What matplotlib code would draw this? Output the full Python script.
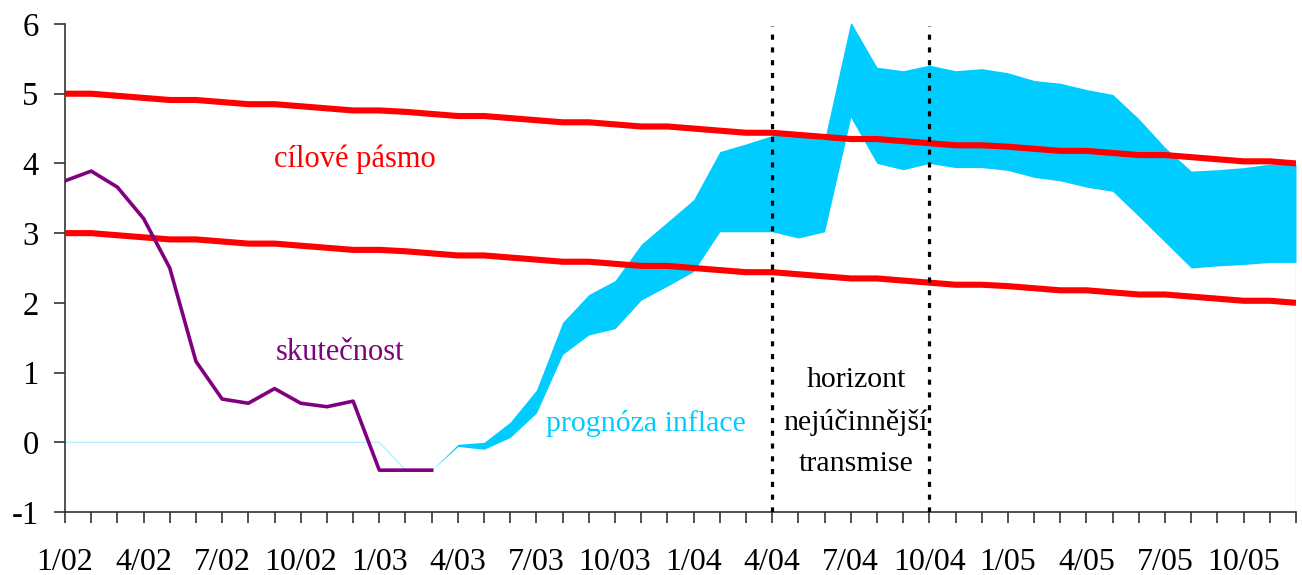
import matplotlib
matplotlib.use("Agg")
import matplotlib.pyplot as plt

months = ["1/02", "2/02", "3/02", "4/02", "5/02", "6/02", "7/02", "8/02", "9/02", "10/02", "11/02", "12/02",
          "1/03", "2/03", "3/03", "4/03", "5/03", "6/03", "7/03", "8/03", "9/03", "10/03", "11/03", "12/03",
          "1/04", "2/04", "3/04", "4/04", "5/04", "6/04", "7/04", "8/04", "9/04", "10/04", "11/04", "12/04",
          "1/05", "2/05", "3/05", "4/05", "5/05", "6/05", "7/05", "8/05", "9/05", "10/05", "11/05", "12/05"]

target_upper = [5.00, 5.00, 4.97, 4.94, 4.91, 4.91, 4.88, 4.85, 4.85, 4.82, 4.79, 4.76,
                4.76, 4.74, 4.71, 4.68, 4.68, 4.65, 4.62, 4.59, 4.59, 4.56, 4.53, 4.53,
                4.50, 4.47, 4.44, 4.44, 4.41, 4.38, 4.35, 4.35, 4.32, 4.29, 4.26, 4.26,
                4.24, 4.21, 4.18, 4.18, 4.15, 4.12, 4.12, 4.09, 4.06, 4.03, 4.03, 4.00]
target_lower = [3.00, 3.00, 2.97, 2.94, 2.91, 2.91, 2.88, 2.85, 2.85, 2.82, 2.79, 2.76,
                2.76, 2.74, 2.71, 2.68, 2.68, 2.65, 2.62, 2.59, 2.59, 2.56, 2.53, 2.53,
                2.50, 2.47, 2.44, 2.44, 2.41, 2.38, 2.35, 2.35, 2.32, 2.29, 2.26, 2.26,
                2.24, 2.21, 2.18, 2.18, 2.15, 2.12, 2.12, 2.09, 2.06, 2.03, 2.03, 2.00]

actual = [3.75, 3.89, 3.66, 3.21, 2.50, 1.16, 0.62, 0.56, 0.77, 0.56, 0.51, 0.59,
          -0.40, -0.40, -0.40]

# forecast band, from 3/03 (index 14) to 12/05
fc_start = 14
fc_upper = [-0.40, -0.03, 0.00, 0.29, 0.75, 1.72, 2.12, 2.32, 2.84, 3.16, 3.48, 4.17,
            4.28, 4.40, 4.40, 4.34, 6.03, 5.38, 5.33, 5.41, 5.33, 5.36, 5.30, 5.19,
            5.15, 5.06, 4.99, 4.64, 4.23, 3.89, 3.91, 3.94, 3.99, 3.99]
fc_lower = [-0.40, -0.06, -0.10, 0.07, 0.42, 1.26, 1.54, 1.63, 2.04, 2.24, 2.45, 3.02,
            3.02, 3.02, 2.93, 3.02, 4.66, 4.00, 3.91, 4.00, 3.94, 3.94, 3.90, 3.80,
            3.75, 3.66, 3.60, 3.24, 2.87, 2.50, 2.53, 2.55, 2.58, 2.58]

# thin base series of the area chart (before forecast)
base_line = [0.0] * 13 + [-0.40, -0.40]

horizon_months = ["4/04", "10/04"]

fig = plt.figure(figsize=(13.02, 5.75), dpi=100)
ax = fig.add_axes([65 / 1302, 1 - 512 / 575, (1296 - 65) / 1302, (512 - 24) / 575])

plt.rcParams['font.family'] = ['Liberation Serif', 'DejaVu Serif']
serif = ['Liberation Serif', 'DejaVu Serif']

x_all = list(range(len(months)))
x_fc = list(range(fc_start, fc_start + len(fc_upper)))

cyan = "#00CCFF"
thin = "#A6ECFF"

ax.plot(list(range(len(base_line))), base_line, color=thin, lw=0.8, zorder=1)
ax.fill_between(x_fc, fc_lower, fc_upper, color=cyan, lw=0, zorder=2)
ax.plot([x_fc[-1], x_fc[-1]], [-1, fc_lower[-1]], color=thin, lw=1.0, zorder=1)

ax.plot(x_all, target_upper, color="#FF0000", lw=4.4, solid_capstyle="butt", zorder=4)
ax.plot(x_all, target_lower, color="#FF0000", lw=4.4, solid_capstyle="butt", zorder=4)
ax.plot(list(range(len(actual))), actual, color="#800080", lw=2.6, zorder=5)

for m in horizon_months:
    xi = months.index(m)
    ax.plot([xi, xi], [-1, 5.97], color="black", lw=2.3, linestyle=(0, (1.6, 2.4)), zorder=6)

ax.set_xlim(0, len(months) - 1)
ax.set_ylim(-1, 6)

ax.set_xticks(x_all)
ax.set_xticklabels([m if i % 3 == 0 else "" for i, m in enumerate(months)])
ax.set_yticks(range(-1, 7))
ax.set_yticklabels([str(v) for v in range(-1, 7)])

for s in ["top", "right"]:
    ax.spines[s].set_visible(False)
for s in ["left", "bottom"]:
    ax.spines[s].set_color("#333333")
    ax.spines[s].set_linewidth(1.2)

ax.tick_params(axis="x", direction="out", length=8, width=1.2, color="#333333", pad=18,
               labelsize=23)
ax.tick_params(axis="y", direction="out", length=8, width=1.2, color="#333333", pad=11,
               labelsize=23.5)
for lab in ax.get_xticklabels() + ax.get_yticklabels():
    lab.set_family(serif)

ax.text(11.08, 4.06, "cílové pásmo", color="#FF0000", fontsize=22, ha="center", va="center",
        family=serif)
ax.text(10.5, 1.29, "skutečnost", color="#800080", fontsize=22, ha="center", va="center",
        family=serif)
ax.text(22.16, 0.27, "prognóza inflace", color=cyan, fontsize=21.5, ha="center", va="center",
        family=serif)
ax.text(30.2, 0.89, "horizont", color="black", fontsize=21.5, ha="center", va="center", family=serif)
ax.text(30.2, 0.28, "nejúčinnější", color="black", fontsize=21.5, ha="center", va="center", family=serif)
ax.text(30.2, -0.31, "transmise", color="black", fontsize=21.5, ha="center", va="center", family=serif)

fig.savefig("out.png", dpi=100)
